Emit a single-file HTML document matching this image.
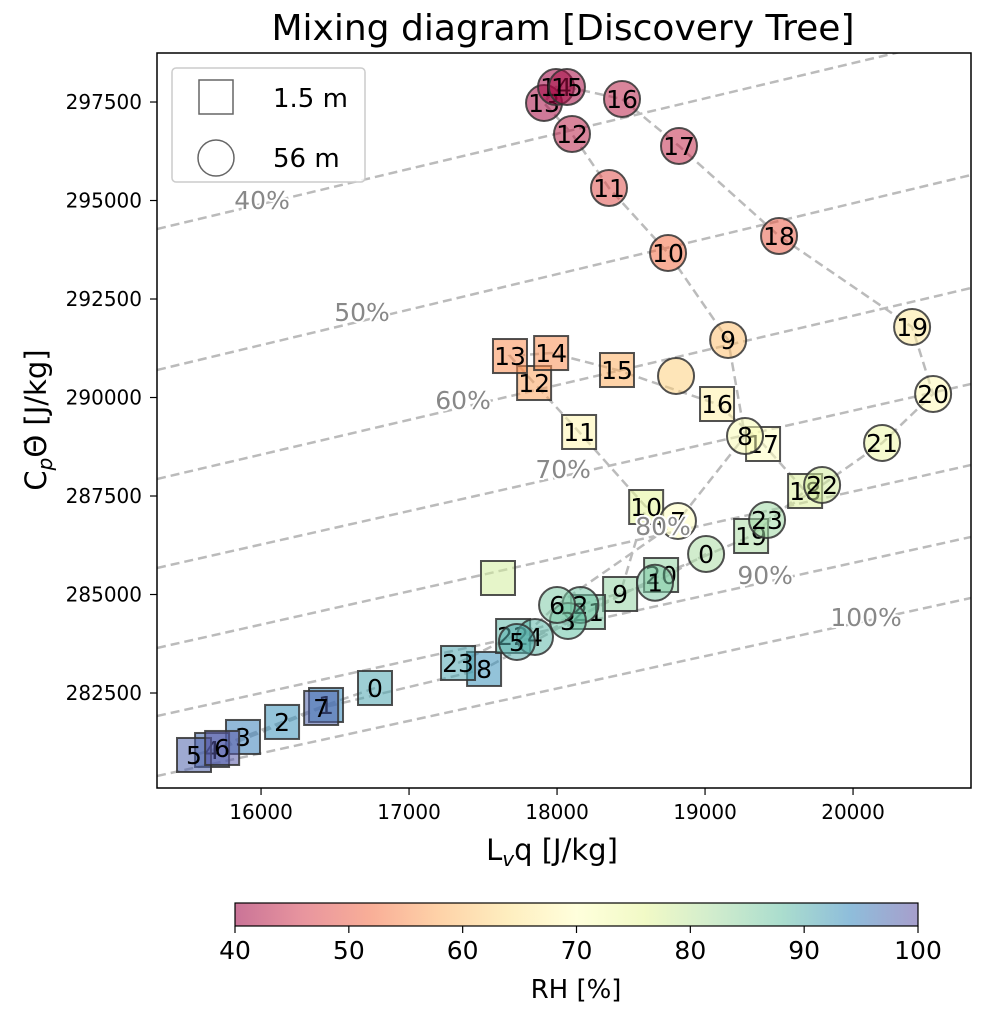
<!DOCTYPE html>
<html><head><meta charset="utf-8">
<style>
html,body{margin:0;padding:0;background:#fff;}
svg{display:block;font-family:"DejaVu Sans","Liberation Sans",sans-serif;}
</style></head>
<body>
<svg id="chart" width="981" height="1012" viewBox="0 0 981 1012" xmlns="http://www.w3.org/2000/svg">
<defs>
<linearGradient id="cbgrad" x1="0" x2="1" y1="0" y2="0">
<stop offset="0" stop-color="#9e0142"/><stop offset="0.1" stop-color="#d53e4f"/><stop offset="0.2" stop-color="#f46d43"/><stop offset="0.3" stop-color="#fdae61"/><stop offset="0.4" stop-color="#fee08b"/><stop offset="0.5" stop-color="#ffffbf"/><stop offset="0.6" stop-color="#e6f598"/><stop offset="0.7" stop-color="#abdda4"/><stop offset="0.8" stop-color="#66c2a5"/><stop offset="0.9" stop-color="#3288bd"/><stop offset="1" stop-color="#5e4fa2"/>
</linearGradient>
<clipPath id="plotclip"><rect x="157" y="53" width="814" height="735"/></clipPath>
</defs>
<text x="563" y="40" font-size="36" text-anchor="middle" fill="#000">Mixing diagram [Discovery Tree]</text>
<g id="rhlines" clip-path="url(#plotclip)"></g>
<g id="paths" clip-path="url(#plotclip)"></g>
<g id="marks" clip-path="url(#plotclip)"></g>
<g id="rhlabels"></g>
<rect x="157" y="53" width="814" height="735" fill="none" stroke="#000" stroke-width="1.5"/>
<g id="xticks"></g>
<g id="yticks"></g>
<text x="552" y="860" font-size="29" text-anchor="middle">L<tspan font-size="20" dy="6" font-style="italic">v</tspan><tspan dy="-6">q [J/kg]</tspan></text>
<text transform="translate(46,420) rotate(-90)" font-size="29" text-anchor="middle">C<tspan font-size="20" dy="6" font-style="italic">p</tspan><tspan dy="-6">Θ̇ [J/kg]</tspan></text>
<g>
<rect x="172" y="68" width="193" height="114" rx="4" fill="#fff" fill-opacity="0.8" stroke="#ccc" stroke-width="1.5"/>
<rect x="199" y="80" width="34" height="34" fill="none" stroke="#666" stroke-width="1.5"/>
<text x="273" y="107" font-size="26">1.5 m</text>
<circle cx="216" cy="158" r="18" fill="none" stroke="#666" stroke-width="1.5"/>
<text x="273" y="167" font-size="26">56 m</text>
</g>
<g>
<rect x="235" y="903" width="683" height="23" fill="url(#cbgrad)" fill-opacity="0.55" stroke="#000" stroke-width="1.2"/>
<g id="cbticks"></g>
<text x="576" y="998" font-size="26" text-anchor="middle">RH [%]</text>
</g>
</svg>
<script>
// ---- data ----
const circleHours = [0,1,2,3,4,5,6,7,8,9,10,11,12,13,14,15,16,17,18,19,20,21,22,23];
const circleLq = [19007,18662,18158,18074,17851,17729,18000,18817,19270,19156,18750,18351,18101,17912,17993,18067,18439,18824,19500,20399,20541,20196,19791,19419];
const circleCpT = [286028,285300,284734,284328,283922,283795,284734,286866,289023,291460,293668,295317,296688,297475,297880,297880,297576,296383,294099,291790,290089,288846,287780,286891];
const circleRH = [82,86,87,88,89,90,86,70,72,60,52,48,43,41,40,41,43,44,50,66,69,74,78,83];
const squareHours = [0,1,2,3,4,5,6,7,8,9,10,11,12,13,14,15,16,17,18,19,20,21,22,23];
const squareLq = [16770,16439,16142,15878,15669,15547,15737,16406,17507,18426,18602,18149,17845,17682,17960,18405,19081,19392,19676,19311,18703,18209,17703,17331];
const squareCpT = [282627,282196,281765,281384,281054,280927,281105,282120,283110,285013,287221,289125,290368,291053,291129,290698,289835,288820,287627,286485,285495,284556,283947,283262];
const squareRH = [91,94,93,95,97,98,99,98,93,84,76,68,57,55,55,58,67,70,77,82,84,86,89,91];
const meanCircle = [18804,290546,62];
const meanSquare = [17601,285419,78];
const rhLevels = ["40%","50%","60%","70%","80%","90%","100%"];
const rhLeftCpT = [294277,290698,287932,285673,283643,281917,280394];
const rhRightCpT = [299201,295647,292779,290343,288287,286460,284912];
const rhLabelLq = [16007,16682,17365,18041,18716,19406,20088];
const rhLabelCpT = [295013,292170,289937,288185,286739,285495,284429];
const xTicks = [16000,17000,18000,19000,20000];
const yTicks = [282500,285000,287500,290000,292500,295000,297500];
const cbTicks = [40,50,60,70,80,90,100];

// ---- scales ----
const X0=157,X1=971,Y0=53,Y1=788;
const xMin=15297,xMax=20797,yMin=280089,yMax=298744;
const sx=v=>X0+(v-xMin)/(xMax-xMin)*(X1-X0);
const sy=v=>Y1-(v-yMin)/(yMax-yMin)*(Y1-Y0);
const cbx=v=>235+(v-40)/60*683;
const stops=["#9e0142","#d53e4f","#f46d43","#fdae61","#fee08b","#ffffbf","#e6f598","#abdda4","#66c2a5","#3288bd","#5e4fa2"];
function spectral(rh){
  let t=Math.max(0,Math.min(1,(rh-40)/60))*10;
  let i=Math.min(9,Math.floor(t)),f=t-i;
  const a=stops[i],b=stops[i+1];
  const c=k=>Math.round(parseInt(a.substr(k,2),16)*(1-f)+parseInt(b.substr(k,2),16)*f);
  return `rgb(${c(1)},${c(3)},${c(5)})`;
}
const NS="http://www.w3.org/2000/svg";
function mk(tag,attrs,parent){const e=document.createElementNS(NS,tag);for(const k in attrs)e.setAttribute(k,attrs[k]);parent.appendChild(e);return e;}

const gl=document.getElementById('rhlines');
rhLevels.forEach((lab,i)=>{
  const l=mk('line',{x1:sx(xMin),y1:sy(rhLeftCpT[i]),x2:sx(xMax),y2:sy(rhRightCpT[i]),stroke:'#bbb','stroke-width':2.5,'stroke-dasharray':'9,5'},gl);
  
  
});
const gp=document.getElementById('paths');
function path(xs,ys,name){
  const d=xs.map((v,i)=>(i?'L':'M')+sx(v).toFixed(1)+','+sy(ys[i]).toFixed(1)).join(' ');
  const p=mk('path',{d:d,fill:'none',stroke:'#bbb','stroke-width':2.5,'stroke-dasharray':'9,5'},gp);
  
  
}
path(circleLq,circleCpT,'path-56m');
path(squareLq,squareCpT,'path-1-5m');
const gm=document.getElementById('marks');
function square(x,y,rh,lab){
  const r=mk('rect',{x:sx(x)-17,y:sy(y)-17,width:34,height:34,fill:spectral(rh),'fill-opacity':0.55,stroke:'#333','stroke-opacity':0.85,'stroke-width':2},gm);
  
  
  if(lab!==null){const t=mk('text',{x:sx(x),y:sy(y)+9,'font-size':25,'text-anchor':'middle'},gm);t.textContent=lab;
  
  }
}
function circle(x,y,rh,lab){
  const c=mk('circle',{cx:sx(x),cy:sy(y),r:18,fill:spectral(rh),'fill-opacity':0.55,stroke:'#333','stroke-opacity':0.85,'stroke-width':2},gm);
  
  
  if(lab!==null){const t=mk('text',{x:sx(x),y:sy(y)+9,'font-size':25,'text-anchor':'middle'},gm);t.textContent=lab;
  
  }
}
squareHours.forEach((h,i)=>square(squareLq[i],squareCpT[i],squareRH[i],h));
square(meanSquare[0],meanSquare[1],meanSquare[2],null);
circleHours.forEach((h,i)=>circle(circleLq[i],circleCpT[i],circleRH[i],h));
circle(meanCircle[0],meanCircle[1],meanCircle[2],null);
const glab=document.getElementById('rhlabels');
rhLevels.forEach((lab,i)=>{
  const t=mk('text',{x:sx(rhLabelLq[i]),y:sy(rhLabelCpT[i])+9,'font-size':25,'text-anchor':'middle',fill:'#888',stroke:'#fff','stroke-width':4,'paint-order':'stroke'},glab);
  t.textContent=lab;
  
  
});
const gx=document.getElementById('xticks');
xTicks.forEach(v=>{
  const l=mk('line',{x1:sx(v),x2:sx(v),y1:788,y2:795,stroke:'#000','stroke-width':1.2},gx);
  
  
  const t=mk('text',{x:sx(v),y:819,'font-size':20,'text-anchor':'middle'},gx);t.textContent=v;
  
  
});
const gy=document.getElementById('yticks');
yTicks.forEach(v=>{
  const l=mk('line',{x1:150,x2:157,y1:sy(v),y2:sy(v),stroke:'#000','stroke-width':1.2},gy);
  
  
  const t=mk('text',{x:142,y:sy(v)+7,'font-size':20,'text-anchor':'end'},gy);t.textContent=v;
  
  
});
const gc=document.getElementById('cbticks');
cbTicks.forEach(v=>{
  const l=mk('line',{x1:cbx(v),x2:cbx(v),y1:926,y2:933,stroke:'#000','stroke-width':1.2},gc);
  
  
  const t=mk('text',{x:cbx(v),y:959,'font-size':25,'text-anchor':'middle'},gc);t.textContent=v;
  
  
});
</script>
</body></html>
